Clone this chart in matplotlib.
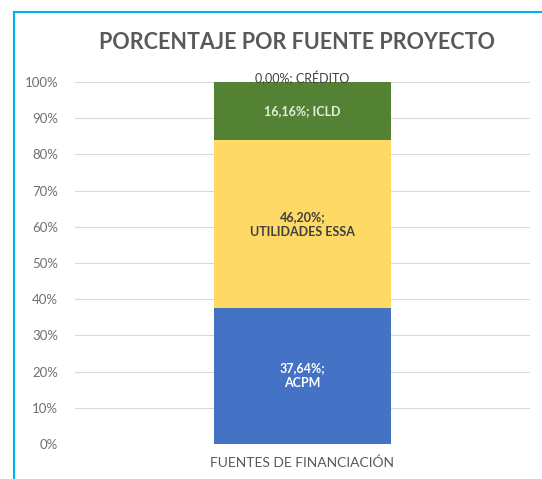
import matplotlib
matplotlib.use("Agg")
import matplotlib.pyplot as plt
from matplotlib.lines import Line2D

plt.rcParams['font.family'] = ['Lato', 'DejaVu Sans']

# data
category = ['FUENTES DE FINANCIACIÓN']
sources = ['ACPM', 'UTILIDADES ESSA', 'ICLD', 'CRÉDITO']
values = [37.64, 46.20, 16.16, 0.00]
labels = ['37,64%;\nACPM', '46,20%;\nUTILIDADES ESSA', '16,16%; ICLD', '0,00%; CRÉDITO']
colors = ['#4472C4', '#FFD966', '#548235', '#A5A5A5']
text_colors = ['white', '#404040', '#E2F0D9', '#404040']

fig = plt.figure(figsize=(5.42, 4.79), dpi=100)
ax = fig.add_axes([0.138, 0.073, 0.840, 0.756])

bottom = 0
for val, lab, col, tcol in zip(values, labels, colors, text_colors):
    ax.bar(0, val, bottom=bottom, width=0.39, color=col, zorder=3)
    if val > 0:
        ax.text(0, bottom + val / 2, lab, ha='center', va='center',
                color=tcol, fontsize=9, fontweight='bold', zorder=4,
                linespacing=1.3)
    else:
        ax.text(0, bottom + 1.0, lab, ha='center', va='center',
                color='#404040', fontsize=9, zorder=4)
    bottom += val

ax.set_xlim(-0.5, 0.5)
ax.set_ylim(0, 100)
ax.set_yticks(range(0, 101, 10))
ax.set_yticklabels([f'{v}%' for v in range(0, 101, 10)])
ax.set_xticks([0])
ax.set_xticklabels(category)
ax.tick_params(axis='y', length=0, colors='#707070', labelsize=9.5, pad=12)
ax.tick_params(axis='x', length=0, colors='#595959', labelsize=10, pad=9)
ax.grid(axis='y', color='#D9D9D9', linewidth=0.8, zorder=0)
for s in ax.spines.values():
    s.set_visible(False)

fig.text(0.548, 0.912, 'PORCENTAJE POR FUENTE PROYECTO', ha='center', va='center',
         fontsize=15.5, fontweight='bold', color='#595959')

# cyan frame on left and top
fig.add_artist(Line2D([14 / 542, 14 / 542], [0, 1 - 12 / 479], color='#00B0F0', linewidth=1.5))
fig.add_artist(Line2D([14 / 542, 1], [1 - 12 / 479, 1 - 12 / 479], color='#00B0F0', linewidth=1.5))

fig.savefig('out.png', dpi=100)
